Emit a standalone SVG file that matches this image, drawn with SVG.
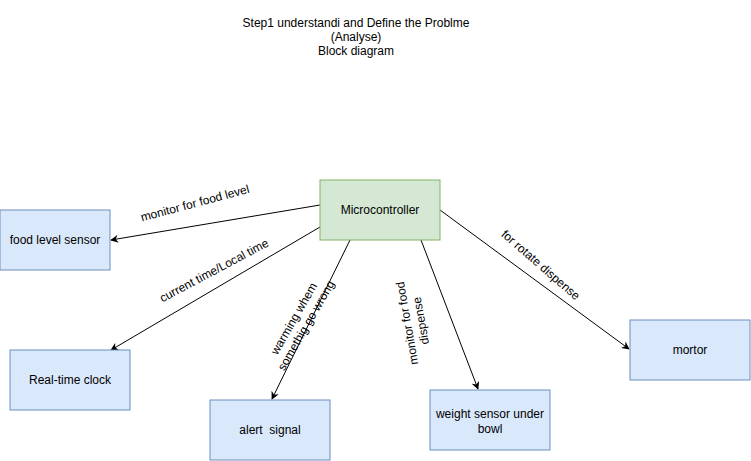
<svg xmlns="http://www.w3.org/2000/svg" width="751" height="461" viewBox="0 0 751 461">
<defs>
<marker id="arr" viewBox="0 0 10 10" refX="9" refY="5" markerWidth="8" markerHeight="8" markerUnits="userSpaceOnUse" orient="auto">
<path d="M0,0 L10,5 L0,10 L3,5 Z" fill="#000"/>
</marker>
</defs>
<style>
text{font-family:"Liberation Sans",Arial,sans-serif;fill:#000;}
.t{font-size:12px;text-anchor:middle;}
.l{font-size:12px;text-anchor:middle;}
.blue{fill:#dae8fc;stroke:#6c8ebf;stroke-width:1;}
.green{fill:#d5e8d4;stroke:#82b366;stroke-width:1;}
.e{stroke:#000;stroke-width:1;fill:none;marker-end:url(#arr);}
</style>
<rect width="751" height="461" fill="#fff"/>
<g id="title">
<text class="t" x="356" y="27">Step1 understandi and Define the Problme</text>
<text class="t" x="356" y="41">(Analyse)</text>
<text class="t" x="356" y="55">Block diagram</text>
</g>
<g id="connectors">
<line class="e" x1="320" y1="205" x2="111" y2="240"/>
<line class="e" x1="320" y1="227" x2="111" y2="350"/>
<line class="e" x1="350" y1="240" x2="272" y2="399"/>
<line class="e" x1="421" y1="240" x2="478" y2="389"/>
<line class="e" x1="440" y1="210" x2="629" y2="349"/>
<text class="l" transform="translate(196,207) rotate(-15)">monitor for food level</text>
<text class="l" transform="translate(216,274) rotate(-28)">current time/Local time</text>
<text class="l" transform="translate(300,322) rotate(-60)"><tspan x="0" y="-3">warming whem</tspan><tspan x="0" y="11">somethig go wrong</tspan></text>
<text class="l" transform="translate(414,322) rotate(-100)"><tspan x="0" y="-3">monitor for food</tspan><tspan x="0" y="11">dispense</tspan></text>
<text class="l" transform="translate(538,268) rotate(41)">for rotate dispense</text>
</g>
<g id="microcontroller">
<rect class="green" x="320" y="180" width="120" height="60"/>
<text class="t" x="380" y="214">Microcontroller</text>
</g>
<g id="food-level-sensor">
<rect class="blue" x="0" y="210" width="110" height="60"/>
<text class="t" x="55" y="244">food level sensor</text>
</g>
<g id="real-time-clock">
<rect class="blue" x="10" y="350" width="120" height="60"/>
<text class="t" x="70" y="384">Real-time clock</text>
</g>
<g id="alert-signal">
<rect class="blue" x="210" y="400" width="120" height="60"/>
<text class="t" x="270" y="434" xml:space="preserve">alert  signal</text>
</g>
<g id="weight-sensor">
<rect class="blue" x="430" y="390" width="120" height="60"/>
<text class="t" x="490" y="418">weight sensor under</text>
<text class="t" x="490" y="433">bowl</text>
</g>
<g id="mortor">
<rect class="blue" x="630" y="320" width="120" height="60"/>
<text class="t" x="690" y="354">mortor</text>
</g>
</svg>
